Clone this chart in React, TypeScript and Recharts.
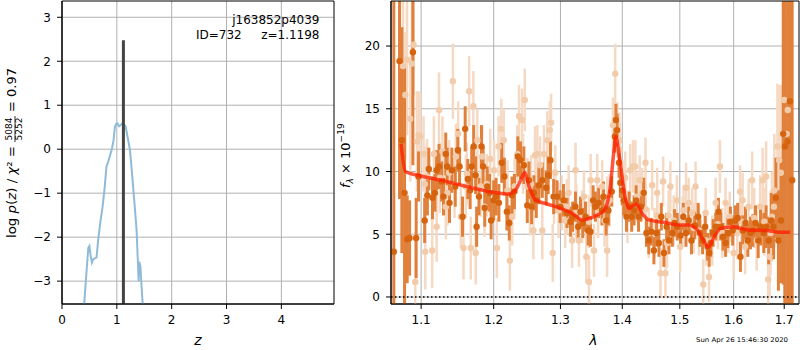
import React from "react";
import {
  ComposedChart,
  Line,
  Scatter,
  ErrorBar,
  XAxis,
  YAxis,
  CartesianGrid,
  ReferenceLine,
  ReferenceArea,
} from "recharts";

// p(z) panel
const zGrid = [0.4, 0.44, 0.48, 0.5, 0.52, 0.545, 0.57, 0.6, 0.63, 0.66, 0.7, 0.74, 0.78, 0.81, 0.85, 0.905, 0.94, 0.965, 0.99, 1.01, 1.04, 1.07, 1.105, 1.13, 1.16, 1.2, 1.24, 1.28, 1.32, 1.36, 1.385, 1.398, 1.41, 1.43, 1.45, 1.47, 1.48];
const logPz = [-3.6, -2.9, -2.24, -2.2, -2.4, -2.58, -2.5, -2.48, -2.46, -2.06, -1.65, -1.31, -0.85, -0.4, -0.25, -0.02, 0.2, 0.51, 0.58, 0.59, 0.52, 0.55, 0.59, 0.56, 0.52, 0.25, -0.02, -0.6, -1.2, -1.84, -2.6, -3.01, -2.56, -2.67, -3.1, -3.51, -3.7];
const zBest = 1.1198;
const zMarkTop = 2.48;
const zTicks = [0, 1, 2, 3, 4];
const pzTicks = [-3, -2, -1, 0, 1, 2, 3];

// spectrum panel, bright extraction
const darkLam = [1.0646, 1.0719, 1.0749, 1.0784, 1.0818, 1.0849, 1.0892, 1.0935, 1.0966, 1.1047, 1.1083, 1.1102, 1.1151, 1.1184, 1.1206, 1.1239, 1.1275, 1.1299, 1.133, 1.1349, 1.1381, 1.1413, 1.146, 1.1495, 1.1519, 1.156, 1.1597, 1.1633, 1.1666, 1.1688, 1.1716, 1.1743, 1.1757, 1.179, 1.1826, 1.1849, 1.1872, 1.1908, 1.1941, 1.1963, 1.2, 1.2035, 1.2075, 1.2116, 1.2155, 1.2191, 1.2226, 1.2267, 1.2302, 1.2352, 1.2392, 1.2442, 1.2493, 1.2518, 1.2558, 1.2593, 1.2629, 1.2668, 1.272, 1.278, 1.281, 1.2845, 1.2894, 1.2946, 1.2995, 1.3048, 1.3103, 1.3156, 1.3192, 1.3236, 1.3279, 1.3316, 1.3353, 1.3396, 1.3439, 1.3476, 1.3519, 1.3556, 1.3609, 1.3663, 1.3689, 1.3732, 1.3769, 1.3824, 1.3877, 1.3893, 1.3913, 1.3946, 1.3968, 1.4, 1.4023, 1.4071, 1.4117, 1.4159, 1.42, 1.4235, 1.4276, 1.4318, 1.4364, 1.4412, 1.4452, 1.4495, 1.4541, 1.4588, 1.4629, 1.4671, 1.4717, 1.4765, 1.4806, 1.4866, 1.4906, 1.4954, 1.5013, 1.5063, 1.5111, 1.5161, 1.5211, 1.5272, 1.5333, 1.5365, 1.5415, 1.5463, 1.5507, 1.5537, 1.5568, 1.5611, 1.5661, 1.5711, 1.5754, 1.5796, 1.5846, 1.5889, 1.5939, 1.5981, 1.6033, 1.6078, 1.6131, 1.6176, 1.6229, 1.6274, 1.6327, 1.6373, 1.6425, 1.6478, 1.6524, 1.6588, 1.6635, 1.6686, 1.6739, 1.6784, 1.6831, 1.6882, 1.6935, 1.698, 1.7014, 1.7069, 1.7116, 1.7163];
const darkFlux = [3.6, 18.8, 12.5, 8.3, 4.6, 4.7, 19.5, 4.7, 9.6, 6.1, 8.1, 10.2, 7.9, 8.3, 10.1, 10.4, 9.2, 8.0, 11.4, 10.4, 7.5, 10.1, 8.8, 11.7, 10.4, 6.4, 13.4, 9.4, 8.5, 10.4, 12.0, 9.7, 5.6, 8.0, 12.0, 10.4, 7.1, 8.8, 8.3, 6.1, 7.7, 8.0, 7.5, 10.7, 9.6, 6.8, 5.9, 8.1, 8.4, 11.2, 10.9, 10.5, 7.3, 9.3, 7.2, 8.3, 7.7, 8.9, 9.3, 8.7, 9.7, 10.9, 8.0, 8.0, 7.2, 7.7, 6.7, 6.0, 6.4, 7.2, 5.6, 6.8, 5.9, 6.4, 5.3, 5.2, 7.7, 7.2, 7.5, 6.9, 8.0, 6.1, 6.9, 8.4, 12.8, 14.1, 13.3, 10.7, 9.1, 8.5, 7.7, 6.4, 7.2, 6.4, 6.9, 7.7, 6.4, 7.2, 8.3, 5.1, 4.5, 5.2, 3.7, 5.1, 4.3, 6.4, 3.5, 5.6, 4.5, 5.1, 5.9, 5.6, 4.9, 6.4, 5.1, 6.1, 4.5, 5.7, 6.4, 5.1, 4.5, 5.6, 4.0, 3.5, 4.3, 5.1, 5.6, 6.8, 5.6, 4.8, 4.3, 5.1, 6.0, 5.3, 6.1, 6.3, 3.2, 5.3, 5.9, 4.5, 5.1, 5.3, 5.9, 4.5, 5.6, 5.1, 5.6, 4.5, 6.1, 5.6, 7.9, 4.5, 6.1, 13.0, 12.0, 12.4, 15.6, 9.3];
const darkErr = [25, 11, 9, 10, 3.5, 3, 9, 3.2, 2, 1.8, 1.6, 1.7, 1.7, 1.5, 1.6, 1.8, 1.6, 1.5, 1.7, 1.5, 1.6, 1.8, 1.6, 1.7, 1.5, 1.6, 1.8, 1.6, 1.5, 1.6, 1.7, 1.5, 1.6, 1.5, 1.7, 1.6, 1.5, 1.6, 1.5, 1.5, 1.6, 1.5, 1.5, 1.6, 1.5, 1.5, 1.4, 1.5, 1.4, 1.6, 1.5, 1.5, 1.4, 1.5, 1.4, 1.4, 1.4, 1.5, 1.4, 1.4, 1.5, 1.5, 1.4, 1.3, 1.3, 1.3, 1.2, 1.2, 1.2, 1.2, 1.2, 1.2, 1.2, 1.2, 1.2, 1.2, 1.2, 1.2, 1.2, 1.2, 1.2, 1.2, 1.2, 1.2, 1.3, 1.3, 1.3, 1.2, 1.2, 1.2, 1.2, 1.2, 1.2, 1.2, 1.2, 1.2, 1.2, 1.2, 1.2, 1.1, 1.1, 1.1, 1.1, 1.1, 1.1, 1.1, 1.1, 1.1, 1.1, 1.1, 1.1, 1.1, 1.1, 1.1, 1.1, 1.1, 1.1, 1.1, 1.1, 1.1, 1.1, 1.1, 1.1, 1.1, 1.1, 1.1, 1.1, 1.1, 1.1, 1.1, 1.1, 1.2, 1.2, 1.2, 1.2, 1.2, 1.2, 1.2, 1.3, 1.3, 1.3, 1.3, 1.4, 1.4, 1.5, 1.6, 1.7, 1.9, 2.2, 2.6, 3.2, 4.0, 5, 12, 20, 25, 30, 30];

// spectrum panel, faint extraction
const lightLam = [1.0764, 1.0794, 1.0816, 1.0859, 1.088, 1.0902, 1.0923, 1.0945, 1.0966, 1.0987, 1.1032, 1.105, 1.1055, 1.1078, 1.1147, 1.117, 1.1207, 1.125, 1.1239, 1.1285, 1.133, 1.1353, 1.1376, 1.1427, 1.145, 1.1468, 1.15, 1.1537, 1.1574, 1.1606, 1.162, 1.1652, 1.1675, 1.1711, 1.1744, 1.1767, 1.1812, 1.1835, 1.1868, 1.19, 1.1904, 1.195, 1.2005, 1.2045, 1.207, 1.211, 1.2145, 1.22, 1.2235, 1.227, 1.2305, 1.2345, 1.237, 1.2415, 1.243, 1.2455, 1.2495, 1.2535, 1.255, 1.2585, 1.261, 1.2645, 1.2685, 1.272, 1.2745, 1.2795, 1.2835, 1.2855, 1.288, 1.29, 1.292, 1.297, 1.3022, 1.3075, 1.31, 1.3129, 1.3183, 1.3237, 1.325, 1.3291, 1.3344, 1.3371, 1.3409, 1.345, 1.3452, 1.3479, 1.3533, 1.3586, 1.36, 1.3667, 1.3705, 1.3748, 1.375, 1.379, 1.3844, 1.3882, 1.3919, 1.395, 1.3962, 1.4017, 1.405, 1.4087, 1.4134, 1.418, 1.4221, 1.425, 1.4296, 1.4337, 1.4395, 1.44, 1.4453, 1.4511, 1.4552, 1.4598, 1.46, 1.4657, 1.4703, 1.4744, 1.4773, 1.48, 1.4831, 1.489, 1.4948, 1.5006, 1.505, 1.5068, 1.5112, 1.5161, 1.5224, 1.525, 1.5286, 1.5348, 1.5428, 1.5472, 1.548, 1.5534, 1.5596, 1.5658, 1.57, 1.5739, 1.5782, 1.5845, 1.59, 1.5925, 1.6, 1.6069, 1.6124, 1.615, 1.6173, 1.6221, 1.629, 1.6359, 1.64, 1.6448, 1.6517, 1.6566, 1.66, 1.6635, 1.6676, 1.6704, 1.6724, 1.675, 1.6793, 1.68, 1.6862, 1.6897, 1.6931, 1.7, 1.705, 1.7072];
const lightFlux = [18.4, 16.1, 18.9, 14.2, 18.6, 20.1, 1.2, 12.4, 12.9, 12.8, 11.4, 9.0, 3.6, 9.6, 3.7, 11.4, 5.6, 9.5, 14.9, 11.6, 7.2, 8.3, 9.9, 17.2, 8.9, 11.2, 13.0, 6.4, 3.9, 8.8, 9.8, 16.4, 3.9, 15.2, 3.5, 12.5, 8.8, 11.2, 7.2, 9.0, 8.8, 11.0, 10.1, 3.9, 12.0, 13.4, 12.5, 8.5, 2.9, 6.4, 8.8, 11.4, 14.4, 14.1, 10.6, 15.7, 8.8, 7.2, 9.0, 5.3, 11.3, 11.4, 10.5, 5.3, 11.4, 12.5, 13.3, 13.9, 3.5, 8.0, 9.9, 6.9, 7.5, 6.1, 7.2, 8.3, 4.5, 10.1, 6.8, 4.5, 6.4, 8.0, 3.2, 6.0, 1.2, 9.3, 3.7, 9.3, 6.8, 8.8, 6.1, 3.7, 7.5, 7.7, 13.7, 17.8, 13.3, 12.5, 11.7, 8.8, 9.5, 6.4, 10.1, 10.4, 10.4, 8.0, 9.3, 8.3, 10.7, 7.0, 5.1, 8.9, 5.1, 8.3, 6.5, 1.9, 9.2, 1.9, 4.3, 6.5, 8.8, 6.1, 7.7, 4.0, 6.0, 6.9, 8.7, 7.5, 6.7, 5.5, 8.8, 5.3, 1.0, 6.7, 4.5, 1.6, 4.5, 7.5, 5.8, 10.4, 5.1, 7.5, 5.5, 6.4, 3.5, 5.1, 8.4, 6.0, 7.7, 4.0, 7.2, 9.3, 6.3, 4.5, 7.2, 9.3, 6.0, 9.6, 1.4, 3.2, 5.1, 6.4, 7.2, 8.5, 12.0, 10.9, 9.9, 15.7, 13.0, 14.9];
const lightErr = [6, 5, 6, 5, 5, 4, 4, 4, 3.5, 3.5, 3, 3, 3, 3, 3, 3, 2.8, 2.8, 3, 2.8, 2.6, 2.6, 2.6, 3, 2.6, 2.6, 2.6, 2.5, 2.5, 2.5, 2.5, 2.8, 2.5, 2.8, 2.5, 2.5, 2.4, 2.4, 2.4, 2.4, 2.4, 2.4, 2.4, 2.4, 2.4, 2.4, 2.4, 2.4, 2.4, 2.3, 2.3, 2.3, 2.5, 2.5, 2.4, 2.5, 2.3, 2.3, 2.3, 2.3, 2.3, 2.3, 2.3, 2.3, 2.3, 2.3, 2.3, 2.3, 2.3, 2.2, 2.2, 2.2, 2.2, 2.2, 2.2, 2.2, 2.2, 2.2, 2.2, 2.1, 2.1, 2.1, 2.1, 2.1, 2.1, 2.1, 2.1, 2.1, 2.1, 2.1, 2.1, 2.1, 2.1, 2.1, 2.2, 2.4, 2.2, 2.2, 2.2, 2.1, 2.1, 2.1, 2.1, 2.1, 2.1, 2.0, 2.0, 2.0, 2.0, 2.0, 2.0, 2.0, 2.0, 2.0, 2.0, 2.0, 2.0, 2.0, 2.0, 2.0, 2.0, 2.0, 2.0, 2.0, 2.0, 2.0, 2.0, 2.0, 2.0, 2.0, 2.0, 2.0, 2.0, 2.0, 2.0, 2.0, 2.0, 2.0, 2.0, 2.1, 2.0, 2.0, 2.0, 2.0, 2.1, 2.1, 2.1, 2.2, 2.2, 2.2, 2.2, 2.3, 2.4, 2.4, 2.5, 2.6, 2.7, 2.8, 3, 3.2, 3.4, 3.6, 4, 4.5, 5, 6, 7, 8, 9, 10];

// model
const modelLam = [1.0739, 1.0794, 1.1, 1.1353, 1.172, 1.2, 1.222, 1.232, 1.2395, 1.2455, 1.252, 1.262, 1.2795, 1.3, 1.3183, 1.3344, 1.3533, 1.3705, 1.3801, 1.3855, 1.3892, 1.3952, 1.4046, 1.4122, 1.418, 1.4238, 1.4337, 1.4453, 1.4715, 1.5, 1.5161, 1.5317, 1.5428, 1.5522, 1.5627, 1.5751, 1.6, 1.6276, 1.6621, 1.7, 1.7122];
const modelFlux = [12.2, 10.0, 9.64, 9.19, 8.66, 8.34, 8.2, 8.53, 9.3, 9.93, 8.8, 7.73, 7.41, 7.06, 6.67, 6.14, 6.4, 6.93, 8.8, 11.4, 12.78, 11.2, 8.0, 7.06, 7.28, 7.41, 6.67, 6.14, 5.95, 5.74, 5.74, 5.34, 4.54, 3.96, 4.75, 5.47, 5.6, 5.34, 5.29, 5.15, 5.15];
const lamTicks = [1.1, 1.2, 1.3, 1.4, 1.5, 1.6, 1.7];
const fluxTicks = [0, 5, 10, 15, 20];

const pzRows = zGrid.map((z, i) => ({ z, lnp: logPz[i] }));
const darkRows = darkLam.map((lam, i) => ({ lam, f: darkFlux[i], err: darkErr[i] }));
const lightRows = lightLam.map((lam, i) => ({ lam, f: lightFlux[i], err: lightErr[i] }));
const modelRows = modelLam.map((lam, i) => ({ lam, f: modelFlux[i] }));

const FONT = '"DejaVu Sans", sans-serif';
const tickStyle = { fill: "#000", fontSize: 12, fontFamily: FONT };
const minus = (v: number) => String(v).replace("-", "\u2212");

const LAM_DOMAIN: [number, number] = [1.061, 1.7304];
const F_DOMAIN: [number, number] = [-0.56, 23.59];
const Z_DOMAIN: [number, number] = [0, 4.96];
const P_DOMAIN: [number, number] = [-3.52, 3.37];

// spectrum chart geometry: plot area is x 391..799, y 1..304 on the page
const SPEC_LEFT = 335;
const SPEC_W = 465;
const SPEC_H = 350;
const PLOT_L = 56;
const PLOT_T = 1;
const PLOT_W = 408;
const PLOT_H = 303;
const hiddenMargin = { top: PLOT_T, right: SPEC_W - PLOT_L - PLOT_W, bottom: SPEC_H - PLOT_T - PLOT_H, left: PLOT_L };

// eslint-disable-next-line @typescript-eslint/no-explicit-any
const darkDot = (p: any) => <circle cx={p.cx} cy={p.cy} r={3.2} fill="#d6640f" />;
// eslint-disable-next-line @typescript-eslint/no-explicit-any
const lightDot = (p: any) => <circle cx={p.cx} cy={p.cy} r={3.2} fill="#f2cbab" />;

function PzPanel() {
  return (
    <ComposedChart width={340} height={350} margin={{ top: 1, right: 6, bottom: 16, left: 22 }}>
      <CartesianGrid stroke="#b0b0b0" strokeDasharray="" horizontalValues={pzTicks} verticalValues={zTicks} />
      <XAxis
        type="number"
        dataKey="z"
        domain={Z_DOMAIN}
        ticks={zTicks}
        allowDataOverflow
        height={30}
        tick={tickStyle}
        tickSize={5}
        tickMargin={6}
        stroke="#000"
      />
      <YAxis
        type="number"
        dataKey="lnp"
        domain={P_DOMAIN}
        ticks={pzTicks}
        allowDataOverflow
        width={40}
        tick={tickStyle}
        tickSize={5}
        tickMargin={6}
        tickFormatter={minus}
        stroke="#000"
      />
      <Line data={pzRows} dataKey="lnp" type="linear" stroke="#8fbbd9" strokeWidth={2} dot={false} isAnimationActive={false} />
      <ReferenceLine
        segment={[{ x: zBest, y: P_DOMAIN[0] }, { x: zBest, y: zMarkTop }]}
        stroke="#444"
        strokeWidth={3}
      />
      <ReferenceArea x1={Z_DOMAIN[0]} x2={Z_DOMAIN[1]} y1={P_DOMAIN[0]} y2={P_DOMAIN[1]} fill="none" stroke="#000" strokeWidth={1} fillOpacity={0} />
    </ComposedChart>
  );
}

function SpecAxesHidden() {
  return (
    <>
      <XAxis type="number" dataKey="lam" scale="log" domain={LAM_DOMAIN} allowDataOverflow hide />
      <YAxis type="number" dataKey="f" domain={F_DOMAIN} allowDataOverflow hide />
    </>
  );
}

function SpecBase() {
  return (
    <ComposedChart width={SPEC_W} height={SPEC_H} margin={{ top: PLOT_T, right: 1, bottom: 16, left: 16 }} data={modelRows}>
      <CartesianGrid stroke="#b0b0b0" strokeDasharray="" horizontalValues={fluxTicks} verticalValues={lamTicks} />
      <XAxis
        type="number"
        dataKey="lam"
        scale="log"
        domain={LAM_DOMAIN}
        ticks={lamTicks}
        allowDataOverflow
        height={30}
        tick={tickStyle}
        tickSize={5}
        tickMargin={6}
        tickFormatter={(v: number) => v.toFixed(1)}
        stroke="#000"
      />
      <YAxis
        type="number"
        dataKey="f"
        domain={F_DOMAIN}
        ticks={fluxTicks}
        allowDataOverflow
        width={40}
        tick={tickStyle}
        tickSize={5}
        tickMargin={6}
        stroke="#000"
      />
    </ComposedChart>
  );
}

function SpecPoints() {
  return (
    <ComposedChart width={SPEC_W} height={SPEC_H} margin={hiddenMargin}>
      {SpecAxesHidden()}
      <Scatter data={lightRows} shape={lightDot} isAnimationActive={false}>
        <ErrorBar dataKey="err" direction="y" width={0} stroke="#f6d9c3" strokeWidth={2.5} />
      </Scatter>
      <Scatter data={darkRows} shape={darkDot} isAnimationActive={false}>
        <ErrorBar dataKey="err" direction="y" width={0} stroke="#e0803a" strokeWidth={3} />
      </Scatter>
    </ComposedChart>
  );
}

function SpecTop() {
  return (
    <ComposedChart width={SPEC_W} height={SPEC_H} margin={hiddenMargin}>
      {SpecAxesHidden()}
      <Line data={modelRows} dataKey="f" type="monotone" stroke="#ff1e00" strokeOpacity={0.75} strokeWidth={3.5} dot={false} isAnimationActive={false} />
      <ReferenceLine y={0} stroke="#000" strokeWidth={1.5} strokeDasharray="1.5 2.5" />
      <ReferenceArea x1={LAM_DOMAIN[0]} x2={LAM_DOMAIN[1]} y1={F_DOMAIN[0]} y2={F_DOMAIN[1]} fill="none" stroke="#000" strokeWidth={1} fillOpacity={0} />
    </ComposedChart>
  );
}

export default function App() {
  return (
    <div style={{ position: "absolute", left: 0, top: 0, width: 800, height: 350, background: "#fff", fontFamily: FONT }}>
      <div style={{ position: "absolute", left: 0, top: 0 }}>
        <PzPanel />
      </div>
      <div style={{ position: "absolute", left: SPEC_LEFT, top: 0 }}>
        <SpecBase />
      </div>
      <div style={{ position: "absolute", left: SPEC_LEFT + PLOT_L, top: PLOT_T, width: PLOT_W, height: PLOT_H, overflow: "hidden" }}>
        <div style={{ position: "absolute", left: -PLOT_L, top: -PLOT_T }}>
          <SpecPoints />
        </div>
      </div>
      <div style={{ position: "absolute", left: SPEC_LEFT, top: 0 }}>
        <SpecTop />
      </div>
      <svg width={800} height={350} style={{ position: "absolute", left: 0, top: 0, pointerEvents: "none" }} fontFamily={FONT}>
        <text x={319.5} y={24} fontSize={12} textAnchor="end">j163852p4039</text>
        <text x={196} y={39} fontSize={12}>ID=732</text>
        <text x={319.5} y={39} fontSize={12} textAnchor="end">z=1.1198</text>

        <g transform="translate(16, 238) rotate(-90)">
          <text x={0} y={0} fontSize={13} textLength={92} lengthAdjust="spacingAndGlyphs">
            log <tspan fontStyle="italic">p</tspan>(<tspan fontStyle="italic">z</tspan>) / <tspan fontStyle="italic">χ</tspan>² =
          </text>
          <text x={109} y={-4} fontSize={9} textAnchor="middle">5084</text>
          <line x1={96} x2={122} y1={-1} y2={-1} stroke="#000" strokeWidth={0.8} />
          <text x={109} y={6} fontSize={9} textAnchor="middle">5252</text>
          <text x={126} y={0} fontSize={13} textLength={44} lengthAdjust="spacingAndGlyphs">= 0.97</text>
        </g>

        <g transform="translate(350, 188) rotate(-90)">
          <text x={0} y={0} fontSize={13}>
            <tspan fontStyle="italic">f</tspan>
            <tspan fontSize={9} dy={3} fontStyle="italic">λ</tspan>
            <tspan dy={-3}> × 10</tspan>
            <tspan fontSize={9} dy={-6}>−19</tspan>
          </text>
        </g>

        <text x={198} y={345} fontSize={14} fontStyle="italic" textAnchor="middle">z</text>
        <text x={593.5} y={345} fontSize={14} fontStyle="italic" textAnchor="middle">λ</text>
        <text x={696} y={342} fontSize={6.5} textLength={92} lengthAdjust="spacingAndGlyphs">Sun Apr 26 15:46:30 2020</text>
      </svg>
    </div>
  );
}
